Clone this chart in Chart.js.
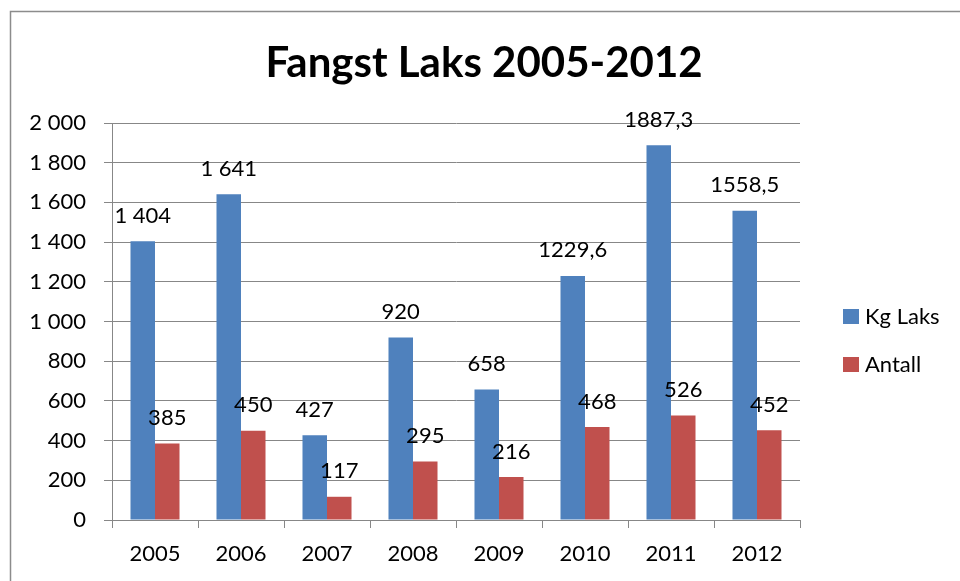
<!DOCTYPE html>
<html>
<head>
<meta charset="utf-8">
<script src="https://cdn.jsdelivr.net/npm/chart.js@4.4.0/dist/chart.umd.min.js"></script>
<style>
  html, body { margin: 0; padding: 0; background: #fff; }
  #wrap { width: 960px; height: 581px; }
</style>
</head>
<body>
<div id="wrap"><canvas id="myChart" width="960" height="581"></canvas></div>
<script>
var aar = ["2005", "2006", "2007", "2008", "2009", "2010", "2011", "2012"];
var kgLaks = [1404, 1641, 427, 920, 658, 1229.6, 1887.3, 1558.5];
var antall = [385, 450, 117, 295, 216, 468, 526, 452];
var serieNavn = ["Kg Laks", "Antall"];
var tittel = "Fangst Laks 2005-2012";

var blaa = "#4F81BD";
var roed = "#C0504D";
var graa = "#878787";
var skrift = "Lato, 'Open Sans', sans-serif";

/* tall med mellomrom som tusenskille, komma som desimaltegn */
function formater(v) {
	if (Number.isInteger(v)) {
		return v.toString().replace(/\B(?=(\d{3})+(?!\d))/g, " ");
	}
	return v.toString().replace(".", ",");
}

/* Ramme rundt hele diagrammet + tittel */
var ramme = {
	id: "ramme",
	beforeDraw: function(chart) {
		var ctx = chart.ctx;
		ctx.save();
		ctx.fillStyle = "#fff";
		ctx.fillRect(0, 0, chart.width, chart.height);
		ctx.strokeStyle = "#8c8c8c";
		ctx.lineWidth = 1.5;
		ctx.strokeRect(10.5, 11.5, 2000, 2000);
		ctx.font = "bold 42px " + skrift;
		ctx.fillStyle = "#000";
		ctx.textAlign = "center";
		ctx.textBaseline = "alphabetic";
		ctx.fillText(tittel, 484, 77);
		ctx.restore();
	}
};

/* Verdier over stolpene */
var etiketter = {
	id: "etiketter",
	afterDatasetsDraw: function(chart) {
		var ctx = chart.ctx;
		ctx.save();
		ctx.font = "22px " + skrift;
		ctx.fillStyle = "#000";
		ctx.textAlign = "center";
		ctx.textBaseline = "alphabetic";
		chart.data.datasets.forEach(function(ds, i) {
			chart.getDatasetMeta(i).data.forEach(function(el, j) {
				ctx.fillText(formater(ds.data[j]), el.x, el.y - 18.5);
			});
		});
		ctx.restore();
	}
};

/* Egen forklaring til hoyre */
var forklaring = {
	id: "forklaring",
	afterDraw: function(chart) {
		var ctx = chart.ctx;
		ctx.save();
		ctx.font = "22px " + skrift;
		ctx.textBaseline = "alphabetic";
		ctx.textAlign = "left";
		chart.data.datasets.forEach(function(ds, i) {
			var y = 324 + i * 48;
			ctx.fillStyle = ds.backgroundColor;
			ctx.fillRect(843, y - 15, 16, 15);
			ctx.fillStyle = "#000";
			ctx.fillText(ds.label, 865, y);
		});
		ctx.restore();
	}
};

var chart = new Chart(document.getElementById("myChart"), {
	type: "bar",
	data: {
		labels: aar,
		datasets: [
			{ label: serieNavn[0], data: kgLaks, backgroundColor: blaa },
			{ label: serieNavn[1], data: antall, backgroundColor: roed }
		]
	},
	options: {
		responsive: false,
		animation: false,
		layout: { padding: { left: 0, right: 160, top: 123, bottom: 0 } },
		datasets: {
			bar: { categoryPercentage: 0.57, barPercentage: 1.0 }
		},
		plugins: {
			legend: { display: false },
			tooltip: { enabled: false },
			title: { display: false }
		},
		scales: {
			x: {
				offset: true,
				grid: {
					offset: true,
					drawOnChartArea: false,
					drawTicks: true,
					tickLength: 8,
					color: graa
				},
				border: { color: graa, width: 1 },
				ticks: {
					color: "#000",
					font: { family: skrift, size: 22 },
					padding: 13,
					maxRotation: 0,
					autoSkip: false
				},
				afterFit: function(scale) { scale.height = 61; }
			},
			y: {
				min: 0,
				max: 2000,
				grid: { color: graa, tickLength: 8, drawTicks: true },
				border: { color: graa, width: 1 },
				ticks: {
					stepSize: 200,
					color: "#000",
					font: { family: skrift, size: 22 },
					padding: 18,
					callback: function(v) { return formater(v); }
				},
				afterFit: function(scale) { scale.width = 112; }
			}
		}
	},
	plugins: [ramme, etiketter, forklaring]
});
</script>
</body>
</html>
